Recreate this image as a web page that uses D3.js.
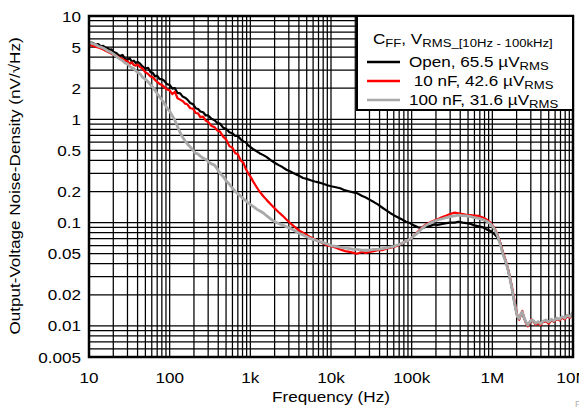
<!DOCTYPE html>
<html>
<head>
<meta charset="utf-8">
<script src="https://cdn.jsdelivr.net/npm/d3@7"></script>
<style>
  body { margin: 0; background: #fff; }
  text { font-family: "Liberation Sans", Arial, sans-serif; white-space: pre; }
</style>
</head>
<body>
<div id="chart_container"></div>
<script>
// frequency points (Hz) shared by the three traces
const freq = [
  10, 11, 12, 13, 14, 15, 16, 17, 18, 19,
  20, 22, 24, 26, 28, 30, 32, 34, 36, 38,
  40, 43, 46, 50, 54, 58, 62, 66, 70, 75,
  80, 86, 92, 100, 108, 116, 125, 135, 145, 155,
  165, 180, 195, 210, 225, 240, 260, 280, 300, 330,
  360, 390, 420, 460, 500, 550, 600, 650, 700, 760,
  820, 880, 940, 1e3, 1.1e3, 1.2e3, 1.3e3, 1.45e3, 1.6e3, 1.8e3,
  2e3, 2.25e3, 2.5e3, 2.8e3, 3.2e3, 3.6e3, 4e3, 4.5e3, 5e3, 5.6e3,
  6.3e3, 7e3, 8e3, 9e3, 1e4, 1.15e4, 1.3e4, 1.5e4, 1.7e4, 1.9e4,
  2.1e4, 2.4e4, 2.7e4, 3e4, 3.4e4, 3.8e4, 4.3e4, 4.8e4, 5.4e4, 6e4,
  6.8e4, 7.6e4, 8.5e4, 9.5e4, 1.06e5, 1.2e5, 1.35e5, 1.5e5, 1.7e5, 1.9e5,
  2.1e5, 2.4e5, 2.7e5, 3e5, 3.4e5, 3.8e5, 4.3e5, 4.8e5, 5.4e5, 6e5,
  6.8e5, 7.6e5, 8.5e5, 9.5e5, 1.05e6, 1.15e6, 1.25e6, 1.35e6, 1.45e6, 1.55e6,
  1.65e6, 1.75e6, 1.85e6, 1.95e6, 2.05e6, 2.15e6, 2.25e6, 2.35e6, 2.45e6, 2.6e6,
  2.75e6, 2.9e6, 3.05e6, 3.25e6, 3.45e6, 3.7e6, 3.95e6, 4.25e6, 4.6e6, 5e6,
  5.4e6, 5.8e6, 6.3e6, 6.8e6, 7.3e6, 7.9e6, 8.5e6, 9.2e6, 1e7
];

// noise density (nV/rtHz), CFF open
const noiseOpen = [
  5.6, 5.5, 5.3, 5.35, 5.1, 5.15, 4.95, 4.9, 4.7, 4.75,
  4.5, 4.35, 4.1, 4.2, 3.85, 3.75, 3.9, 3.6, 3.7, 3.5,
  3.6, 3.45, 3.25, 3.1, 3.15, 2.85, 2.8, 2.6, 2.65, 2.45,
  2.45, 2.35, 2.2, 2.15, 1.98, 2.0, 1.8, 1.78, 1.66, 1.62,
  1.56, 1.44, 1.4, 1.28, 1.26, 1.19, 1.17, 1.09, 1.09, 1.01,
  0.98, 0.92, 0.91, 0.83, 0.81, 0.75, 0.73, 0.69, 0.69, 0.64,
  0.61, 0.6, 0.56, 0.54, 0.51, 0.49, 0.47, 0.45, 0.43, 0.4,
  0.38, 0.36, 0.345, 0.325, 0.31, 0.295, 0.285, 0.27, 0.265, 0.257,
  0.25, 0.245, 0.238, 0.23, 0.225, 0.22, 0.215, 0.205, 0.2, 0.196,
  0.193, 0.182, 0.175, 0.167, 0.158, 0.15, 0.14, 0.132, 0.124, 0.118,
  0.112, 0.107, 0.102, 0.099, 0.094, 0.09, 0.089, 0.091, 0.093, 0.096,
  0.095, 0.097, 0.099, 0.1, 0.1, 0.102, 0.1, 0.099, 0.097, 0.094,
  0.092, 0.09, 0.086, 0.083, 0.078, 0.072, 0.064, 0.051, 0.043, 0.036,
  0.029, 0.023, 0.018, 0.0145, 0.0121, 0.0116, 0.0128, 0.0136, 0.0121, 0.0108,
  0.0101, 0.0106, 0.0113, 0.011, 0.0104, 0.0108, 0.0103, 0.011, 0.0112, 0.0107,
  0.0114, 0.011, 0.0118, 0.0114, 0.0121, 0.0117, 0.0125, 0.0122, 0.0134
];

// CFF = 10 nF
const noise10n = [
  5.3, 5.15, 5.05, 4.95, 4.85, 4.75, 4.6, 4.5, 4.4, 4.3,
  4.25, 4.1, 3.95, 3.85, 3.7, 3.65, 3.45, 3.55, 3.35, 3.3,
  3.4, 3.2, 3.1, 2.85, 2.75, 2.6, 2.55, 2.4, 2.3, 2.2,
  2.15, 2.05, 1.95, 1.9, 1.75, 1.85, 1.6, 1.55, 1.5, 1.42,
  1.4, 1.28, 1.27, 1.15, 1.14, 1.05, 1.06, 0.97, 0.94, 0.86,
  0.84, 0.78, 0.76, 0.68, 0.64, 0.55, 0.53, 0.47, 0.46, 0.4,
  0.38, 0.33, 0.3, 0.28, 0.245, 0.22, 0.2, 0.18, 0.165, 0.15,
  0.138, 0.126, 0.117, 0.107, 0.097, 0.09, 0.084, 0.08, 0.076, 0.072,
  0.069, 0.066, 0.063, 0.06, 0.059, 0.057, 0.055, 0.053, 0.052, 0.051,
  0.05, 0.052, 0.051, 0.052, 0.053, 0.054, 0.054, 0.056, 0.057, 0.058,
  0.06, 0.063, 0.066, 0.069, 0.074, 0.082, 0.09, 0.096, 0.101, 0.105,
  0.108, 0.113, 0.117, 0.121, 0.125, 0.123, 0.121, 0.119, 0.118, 0.117,
  0.116, 0.112, 0.107, 0.1, 0.09, 0.078, 0.064, 0.052, 0.044, 0.037,
  0.03, 0.024, 0.019, 0.015, 0.0125, 0.0115, 0.0128, 0.014, 0.0124, 0.0108,
  0.0099, 0.0106, 0.0116, 0.011, 0.0103, 0.0106, 0.0102, 0.0109, 0.0111, 0.0105,
  0.0113, 0.011, 0.0117, 0.0113, 0.012, 0.0116, 0.0124, 0.012, 0.0132
];

// CFF = 100 nF
const noise100n = [
  5.6, 5.4, 5.3, 5.1, 5.0, 4.9, 4.75, 4.6, 4.5, 4.4,
  4.3, 4.05, 3.85, 3.7, 3.5, 3.45, 3.25, 3.15, 3.1, 2.95,
  2.85, 2.75, 2.55, 2.45, 2.3, 2.15, 2.05, 1.9, 1.78, 1.65,
  1.55, 1.42, 1.3, 1.2, 1.08, 0.98, 0.85, 0.74, 0.67, 0.62,
  0.58, 0.54, 0.5, 0.47, 0.46, 0.44, 0.42, 0.41, 0.39, 0.37,
  0.36, 0.33, 0.3, 0.28, 0.255, 0.235, 0.215, 0.2, 0.19, 0.18,
  0.17, 0.163, 0.155, 0.15, 0.142, 0.135, 0.13, 0.124, 0.116, 0.108,
  0.102, 0.098, 0.095, 0.091, 0.087, 0.083, 0.079, 0.076, 0.073, 0.07,
  0.068, 0.066, 0.064, 0.062, 0.06, 0.059, 0.058, 0.057, 0.056, 0.055,
  0.055, 0.054, 0.054, 0.054, 0.055, 0.055, 0.056, 0.057, 0.058, 0.059,
  0.061, 0.063, 0.066, 0.069, 0.074, 0.08, 0.088, 0.094, 0.099, 0.103,
  0.106, 0.109, 0.112, 0.114, 0.116, 0.118, 0.117, 0.116, 0.114, 0.112,
  0.11, 0.107, 0.103, 0.097, 0.088, 0.076, 0.062, 0.05, 0.043, 0.036,
  0.029, 0.023, 0.018, 0.0145, 0.0122, 0.0118, 0.013, 0.0137, 0.0123, 0.011,
  0.0102, 0.0109, 0.0114, 0.0112, 0.0106, 0.011, 0.0105, 0.0111, 0.0114, 0.0109,
  0.0116, 0.0112, 0.0119, 0.0116, 0.0123, 0.0119, 0.0127, 0.0123, 0.0136
];

// tick labels
const xTickVals = [10, 100, 1e3, 1e4, 1e5, 1e6, 1e7];
const xTickLabels = ["10", "100", "1k", "10k", "100k", "1M", "10M"];
const yTickVals = [10, 5, 2, 1, 0.5, 0.2, 0.1, 0.05, 0.02, 0.01, 0.005];
const yTickLabels = ["10", "5", "2", "1", "0.5", "0.2", "0.1", "0.05", "0.02", "0.01", "0.005"];

// legend entries
const seriesNames = ["Open, 65.5 \u00b5V", " 10 nF, 42.6 \u00b5V", "100 nF, 31.6 \u00b5V"];
const seriesColors = ["#000000", "#ff0000", "#a9a9a9"];
const seriesWidths = [2.2, 2.2, 2.8];
const seriesData = [noiseOpen, noise10n, noise100n];

// -- layout -- //
const W = 579, H = 409;
const pLeft = 89, pRight = 573, pTop = 16, pBottom = 357;
const sx = 1.14; // text in the picture is a bit stretched sideways

const svg = d3.select("#chart_container").append("svg")
  .attr("width", W).attr("height", H);

const x = d3.scaleLog().domain([10, 1e7]).range([pLeft, pRight]);
const y = d3.scaleLog().domain([0.005, 10]).range([pBottom, pTop]);

// helper for stretched text
function label(g, tx, ty, str, size, anchor, rot) {
  return g.append("text")
    .attr("transform", `translate(${tx},${ty})` + (rot ? ` rotate(${rot})` : "") + ` scale(${sx},1)`)
    .attr("text-anchor", anchor || "start")
    .style("font-size", size + "px")
    .text(str);
}

// grid lines, every 1..9 of each decade
const grid = svg.append("g");
grid.selectAll(".vg").data(x.ticks()).join("line")
  .attr("x1", d => x(d)).attr("x2", d => x(d))
  .attr("y1", pTop).attr("y2", pBottom)
  .attr("stroke", "#000").attr("stroke-width", 1.25);
grid.selectAll(".hg").data(y.ticks()).join("line")
  .attr("x1", pLeft).attr("x2", pRight)
  .attr("y1", d => y(d)).attr("y2", d => y(d))
  .attr("stroke", "#000").attr("stroke-width", 1.25);

// traces
svg.append("clipPath").attr("id", "plotclip").append("rect")
  .attr("x", pLeft).attr("y", pTop).attr("width", pRight - pLeft).attr("height", pBottom - pTop);

const line = d3.line().x(d => x(d[0])).y(d => y(d[1]));
const traces = svg.append("g").attr("clip-path", "url(#plotclip)");
seriesData.forEach((vals, i) => {
  traces.append("path")
    .datum(freq.map((f, j) => [f, vals[j]]))
    .attr("d", line)
    .attr("fill", "none")
    .attr("stroke", seriesColors[i])
    .attr("stroke-width", seriesWidths[i])
    .attr("stroke-linejoin", "round");
});

// frame
svg.append("rect")
  .attr("x", pLeft).attr("y", pTop).attr("width", pRight - pLeft).attr("height", pBottom - pTop)
  .attr("fill", "none").attr("stroke", "#000").attr("stroke-width", 2.5);

// tick labels
xTickVals.forEach((v, i) => label(svg, x(v), 383, xTickLabels[i], 15, "middle"));
yTickVals.forEach((v, i) => label(svg, 81, y(v) + 5.5, yTickLabels[i], 15, "end"));

// axis titles
label(svg, 331, 402, "Frequency (Hz)", 15, "middle");
label(svg, 19.5, 186, "Output-Voltage Noise-Density (nV/\u221aHz)", 15, "middle", -90);

// legend
const lg = svg.append("g");
lg.append("rect")
  .attr("x", 357).attr("y", pTop).attr("width", pRight - 357).attr("height", 94)
  .attr("fill", "#fff").attr("stroke", "#000").attr("stroke-width", 2);

const title = lg.append("text")
  .attr("transform", `translate(373,44) scale(${sx},1)`)
  .style("font-size", "15px");
title.append("tspan").text("C");
title.append("tspan").attr("dy", 3).style("font-size", "11.5px").text("FF");
title.append("tspan").attr("dy", -3).text(", V");
title.append("tspan").attr("dy", 3).style("font-size", "11.5px").text("RMS_[10Hz - 100kHz]");

const rowY = [62, 81, 100];
seriesNames.forEach((name, i) => {
  lg.append("line")
    .attr("x1", 367).attr("x2", 400)
    .attr("y1", rowY[i]).attr("y2", rowY[i])
    .attr("stroke", seriesColors[i]).attr("stroke-width", 2.5);
  const t = lg.append("text")
    .attr("transform", `translate(409,${rowY[i] + 5}) scale(${sx},1)`)
    .style("font-size", "15px");
  t.append("tspan").text(name);
  t.append("tspan").attr("dy", 3).style("font-size", "11.5px").text("RMS");
});

// small figure tag at the corner
svg.append("text").attr("x", 575).attr("y", 407)
  .style("font-size", "9px").attr("fill", "#b0b0b0").text("F");
</script>
</body>
</html>
